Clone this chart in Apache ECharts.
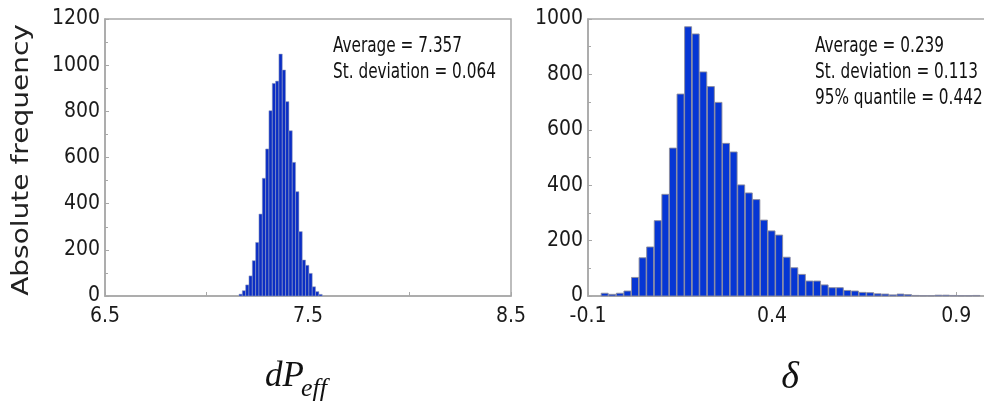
<!DOCTYPE html>
<html>
<head>
<meta charset="utf-8">
<script src="https://cdn.jsdelivr.net/npm/echarts@6/dist/echarts.min.js"></script>
<style>
html,body{margin:0;padding:0;background:#fff;}
#chart{width:984px;height:404px;}
</style>
</head>
<body>
<div id="chart"></div>
<script>
// ---- data ----
var leftBinStart = 7.16;
var leftBinWidth = 0.0164;
var leftCounts = [8, 23, 48, 87, 153, 232, 355, 510, 637, 803, 921, 931, 1048, 979, 842, 716, 579, 452, 279, 156, 133, 98, 40, 19, 7];

var rightBinStart = -0.065;
var rightBinWidth = 0.0206;
var rightCounts = [10, 6, 10, 18, 67, 138, 177, 272, 367, 534, 729, 972, 946, 809, 756, 699, 551, 520, 401, 372, 348, 274, 235, 220, 140, 102, 78, 54, 54, 40, 30, 30, 20, 18, 13, 12, 8, 7, 4, 7, 5, 2, 1, 1, 3, 3, 2, 1, 1, 2];

var leftXLabels = [6.5, 7.5, 8.5];
var leftXTicks = [6.5, 7.0, 7.5, 8.0, 8.5];
var rightXLabels = [-0.1, 0.4, 0.9];
var rightXTicks = [-0.1, 0.4, 0.9];

var leftStats = ['Average = 7.357', 'St. deviation = 0.064'];
var rightStats = ['Average = 0.239', 'St. deviation = 0.113', '95% quantile = 0.442'];

var yAxisTitle = 'Absolute frequency';

// ---- build ----
function bins(start, width, counts) {
  return counts.map(function (c, i) {
    var x0 = start + i * width;
    return [x0, x0 + width, c];
  });
}

function makeRender(fill, stroke, lw, shrink) {
  return function (params, api) {
    var p0 = api.coord([api.value(0), api.value(2)]);
    var p1 = api.coord([api.value(1), 0]);
    return {
      type: 'rect',
      shape: { x: p0[0] + shrink / 2, y: p0[1], width: p1[0] - p0[0] - shrink, height: p1[1] - p0[1] },
      style: { fill: fill, stroke: stroke, lineWidth: lw }
    };
  };
}

var labelFont = '"DejaVu Sans Condensed", "DejaVu Sans", sans-serif';
var axisColor = '#a8a8a8';

function xAxisCfg(gi, min, max, labels, ticks) {
  return {
    type: 'value', gridIndex: gi, min: min, max: max,
    splitLine: { show: false },
    axisLine: { show: true, onZero: false, lineStyle: { color: axisColor, width: 1.5 } },
    axisTick: { show: true, inside: true, length: 4, customValues: ticks, lineStyle: { color: axisColor } },
    axisLabel: {
      customValues: labels, color: '#1a1a1a', fontFamily: labelFont, fontSize: 21, margin: 10,
      formatter: function (v) { return String(Math.round(v * 10) / 10); }
    }
  };
}
function yAxisCfg(gi, max) {
  return {
    type: 'value', gridIndex: gi, min: 0, max: max, interval: 200,
    splitLine: { show: false },
    axisLine: { show: true, onZero: false, lineStyle: { color: axisColor, width: 1.5 } },
    axisTick: { show: true, inside: true, length: 4, lineStyle: { color: axisColor } },
    minorTick: { show: true, splitNumber: 2, length: 3, lineStyle: { color: axisColor } },
    axisLabel: { color: '#1a1a1a', fontFamily: labelFont, fontSize: 21, margin: 5,
      formatter: function (v) { return String(v); } }
  };
}

var graphics = [];
leftStats.forEach(function (t, i) {
  graphics.push({ type: 'text', x: 333, y: 47 + i * 26, scaleX: 0.81,
    style: { text: t, fontFamily: labelFont, fontSize: 21, fill: '#111', verticalAlign: 'middle' } });
});
rightStats.forEach(function (t, i) {
  graphics.push({ type: 'text', x: 815, y: 47 + i * 26, scaleX: 0.81,
    style: { text: t, fontFamily: labelFont, fontSize: 21, fill: '#111', verticalAlign: 'middle' } });
});
graphics.push({ type: 'text', x: 22, y: 160, rotation: Math.PI / 2, scaleY: 0.8,
  style: { text: yAxisTitle, fontFamily: '"DejaVu Sans", sans-serif', fontSize: 28, fill: '#222', align: 'center', verticalAlign: 'middle' } });
graphics.push({ type: 'text', x: 265, y: 377,
  style: { text: 'dP', fontFamily: '"Liberation Serif", serif', fontStyle: 'italic', fontSize: 35, fill: '#111', verticalAlign: 'middle' } });
graphics.push({ type: 'text', x: 301, y: 389,
  style: { text: 'eff', fontFamily: '"Liberation Serif", serif', fontStyle: 'italic', fontSize: 26, fill: '#111', verticalAlign: 'middle' } });
graphics.push({ type: 'text', x: 790, y: 378,
  style: { text: 'δ', fontFamily: '"Liberation Serif", serif', fontStyle: 'italic', fontSize: 38, fill: '#111', align: 'center', verticalAlign: 'middle' } });

var option = {
  animation: false,
  backgroundColor: '#fff',
  grid: [
    { left: 105, top: 19, width: 406, height: 277, show: true, borderColor: axisColor, borderWidth: 1.5, outerBoundsMode: 'none' },
    { left: 588, top: 19, width: 405, height: 277, show: true, borderColor: axisColor, borderWidth: 1.5, outerBoundsMode: 'none' }
  ],
  xAxis: [
    xAxisCfg(0, 6.5, 8.5, leftXLabels, leftXTicks),
    xAxisCfg(1, -0.1, 1.0, rightXLabels, rightXTicks)
  ],
  yAxis: [yAxisCfg(0, 1200), yAxisCfg(1, 1000)],
  series: [
    { type: 'custom', xAxisIndex: 0, yAxisIndex: 0, coordinateSystem: 'cartesian2d',
      renderItem: makeRender('#0b2ec4', 'rgba(150,160,190,0.9)', 0.6, 0),
      encode: { x: [0, 1], y: 2 }, data: bins(leftBinStart, leftBinWidth, leftCounts) },
    { type: 'custom', xAxisIndex: 1, yAxisIndex: 1, coordinateSystem: 'cartesian2d',
      renderItem: makeRender('#0636d4', '#8c8c9c', 0.9, 0.6),
      encode: { x: [0, 1], y: 2 }, data: bins(rightBinStart, rightBinWidth, rightCounts) }
  ],
  graphic: graphics
};

var chart = echarts.init(document.getElementById('chart'));
chart.setOption(option);
</script>
</body>
</html>
